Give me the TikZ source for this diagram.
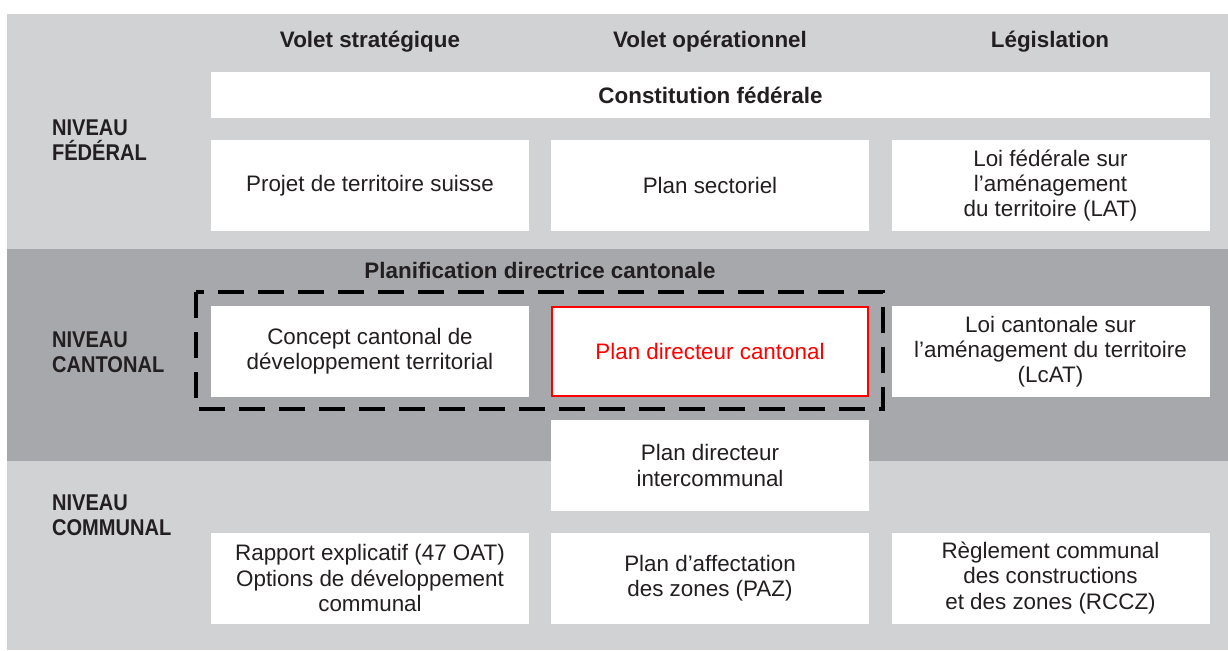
\documentclass[tikz,border=0pt]{standalone}
\usepackage{fontspec}
\setmainfont{Liberation Sans}
\newfontfamily\etroit{Liberation Sans}[FakeStretch=0.88]
\definecolor{fondclair}{HTML}{D1D2D4}
\definecolor{fondfonce}{HTML}{A7A8AB}
\definecolor{encre}{HTML}{231F20}
\definecolor{rouge}{HTML}{FF0000}
\begin{document}
\begin{tikzpicture}[x=0.5pt, y=-0.5pt,
		cell/.style={fill=white, inner sep=0pt, align=center, text=encre,
			minimum width=159pt, minimum height=45.5pt,
			font=\fontsize{11.2}{12.6}\selectfont},
		head/.style={text=encre, font=\fontsize{11.2}{12.6}\selectfont\bfseries},
		level/.style={text=encre, anchor=west, align=left,
			font=\etroit\fontsize{11.4}{12.6}\selectfont\bfseries}
		]
		\useasboundingbox (0, 0) rectangle (1228, 650);
		
		% ---- FONDS ----
		\fill[fondclair] (7, 14) rectangle (1228, 650);
		\fill[fondfonce] (7, 249) rectangle (1228, 461);
		
		% ---- EN-TETES ----
		\node[head] (hs) at (370, 42) {Volet stratégique};
		\node[head] (ho) at (710, 42) {Volet opérationnel};
		\node[head] (hl) at (1050, 42) {Législation};
		
		\node[level] (nf) at (45, 140) {NIVEAU\\FÉDÉRAL};
		\node[level] (nc) at (45, 352) {NIVEAU\\CANTONAL};
		\node[level] (nm) at (45, 515) {NIVEAU\\COMMUNAL};
		
		% ---- NIVEAU FEDERAL ----
		\node[cell, minimum width=499.5pt, minimum height=23pt, font=\fontsize{11.2}{12.6}\selectfont\bfseries]
			(cf) at (710.5, 95) {Constitution fédérale};
		\node[cell] (f1) at (370, 185.5) {Projet de territoire suisse};
		\node[cell] (f2) at (710, 185.5) {Plan sectoriel};
		\node[cell] (f3) at (1050.5, 185.5) {Loi fédérale sur\\l’aménagement\\du territoire (LAT)};
		
		% ---- NIVEAU CANTONAL ----
		\node[head] (pdc) at (540, 270) {Planification directrice cantonale};
		\draw[line width=1.75pt, dash pattern=on 13pt off 7pt] (196, 292) rectangle (883, 409);
		\node[cell] (c1) at (370, 351.5) {Concept cantonal de\\développement territorial};
		\node[cell, draw=rouge, line width=1pt, text=rouge, minimum width=158pt, minimum height=44.5pt]
			(c2) at (710, 351.5) {Plan directeur cantonal};
		\node[cell] (c3) at (1050.5, 351.5) {Loi cantonale sur\\l’aménagement du territoire\\(LcAT)};
		\node[cell] (ic) at (710, 465.5) {Plan directeur\\intercommunal};
		
		% ---- NIVEAU COMMUNAL ----
		\node[cell] (m1) at (370, 578) {Rapport explicatif (47 OAT)\\Options de développement\\communal};
		\node[cell] (m2) at (710, 578) {Plan d’affectation\\des zones (PAZ)};
		\node[cell] (m3) at (1050.5, 578) {Règlement communal\\des constructions\\et des zones (RCCZ)};
		
	\end{tikzpicture}
\end{document}
